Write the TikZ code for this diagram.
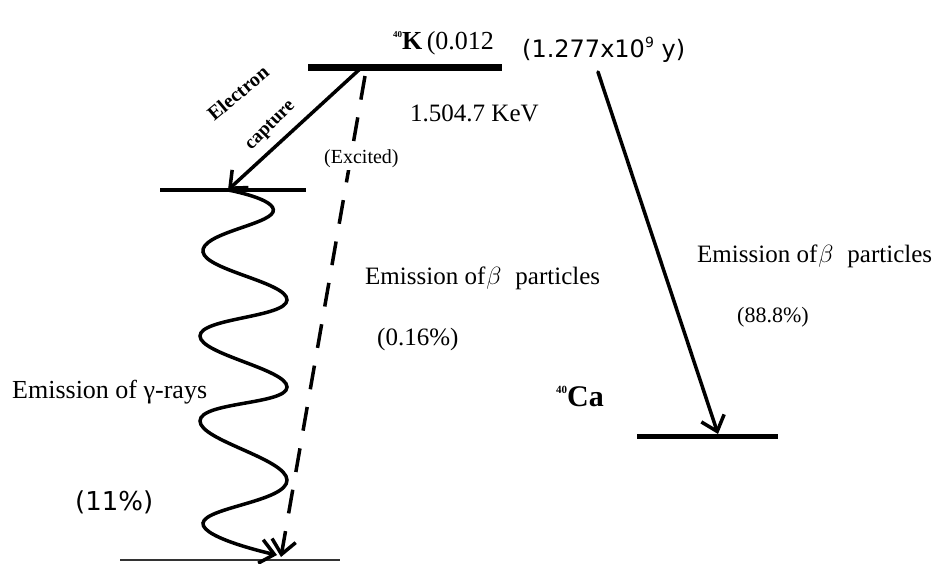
\documentclass[tikz,border=0pt]{standalone}
\usepackage{fontspec}
\setmainfont{Liberation Serif}
\newfontfamily\sansf{DejaVu Sans}
\usetikzlibrary{arrows.meta}
\begin{document}
\begin{tikzpicture}[x=1pt,y=-1pt,
  tipV/.style={-{Straight Barb[length=14pt,width=24pt]}},
  arr/.style={line width=3.5pt,line cap=round,tipV},
  lvl/.style={line width=#1},
  txt/.style={inner sep=0pt,anchor=base west,font=\fontsize{25}{28}\selectfont},
  sanstxt/.style={inner sep=0pt,anchor=base west,font=\sansf\fontsize{24}{28}\selectfont},
  rot/.style={inner sep=0pt,font=\bfseries\fontsize{20}{22}\selectfont}]
\useasboundingbox (0,0) rectangle (942,564);
% level end points
\coordinate (K1) at (308,68);  \coordinate (K2) at (502,68);
\coordinate (E1) at (160,190); \coordinate (E2) at (306,190);
\coordinate (G1) at (120,560); \coordinate (G2) at (340,560);
\coordinate (C1) at (637,436); \coordinate (C2) at (778,436);
% arrow end points
\coordinate (ecS) at (361,68);  \coordinate (ecT) at (228,190);
\coordinate (dS) at (365,76);   \coordinate (dT) at (281,557);
\coordinate (wT) at (277,555);
\coordinate (bS) at (598,72);   \coordinate (bT) at (718,434);
% levels
\draw[lvl=7pt] (K1) -- (K2);
\draw[lvl=4pt] (E1) -- (E2);
\draw[lvl=5pt] (C1) -- (C2);
\draw[lvl=2pt,black!80] (G1) -- (G2);
% arrows
\draw[arr] (ecS) -- (ecT);
\draw[arr] (bS) -- (bT);
\draw[arr,line cap=butt,dash pattern=on 24pt off 18pt] (dS) -- (dT);
\draw[arr] plot[smooth,tension=0.75] coordinates {(ecT) (273,212) (203,252) (287,300) (200,336) (287,387) (200,421) (287,480) (203,523) (wT)};
% labels
\node[txt,font=\fontsize{26}{30}\selectfont] (klbl) at (393,50) {\raisebox{12pt}{\fontsize{9}{9}\selectfont\bfseries 40}\textbf{K}\,(0.012};
\node[sanstxt] (tlbl) at (522,58) {(1.277x10\raisebox{10pt}{\fontsize{14}{14}\selectfont 9} y)};
\node[rot,rotate=40] (el) at (238,93) {Electron};
\node[rot,rotate=45,font=\bfseries\fontsize{19}{22}\selectfont] (cap) at (271,126) {capture};
\node[txt] (kev) at (410,122) {1.504.7 KeV};
\node[txt,font=\fontsize{20}{22}\selectfont,fill=white,inner sep=2pt] (exc) at (322,164) {(Excited)};
\node[txt] (em1) at (365,284) {Emission of\hspace{1pt}{\fontsize{34}{34}\selectfont$\beta$}\hspace{14pt}particles};
\node[txt] (p1) at (377,345) {(0.16\%)};
\node[txt] (em2) at (697,262) {Emission of\hspace{1pt}{\fontsize{34}{34}\selectfont$\beta$}\hspace{14pt}particles};
\node[txt,font=\fontsize{22}{26}\selectfont] (p2) at (737,322) {(88.8\%)};
\node[txt,font=\fontsize{30}{32}\selectfont] (ca) at (556,406) {\raisebox{13pt}{\fontsize{11}{11}\selectfont\bfseries 40}\textbf{Ca}};
\node[txt,font=\fontsize{26}{28}\selectfont] (gam) at (12,398) {Emission of γ-rays};
\node[sanstxt,font=\sansf\fontsize{26}{28}\selectfont] (p3) at (75,510) {(11\%)};
\end{tikzpicture}
\end{document}
